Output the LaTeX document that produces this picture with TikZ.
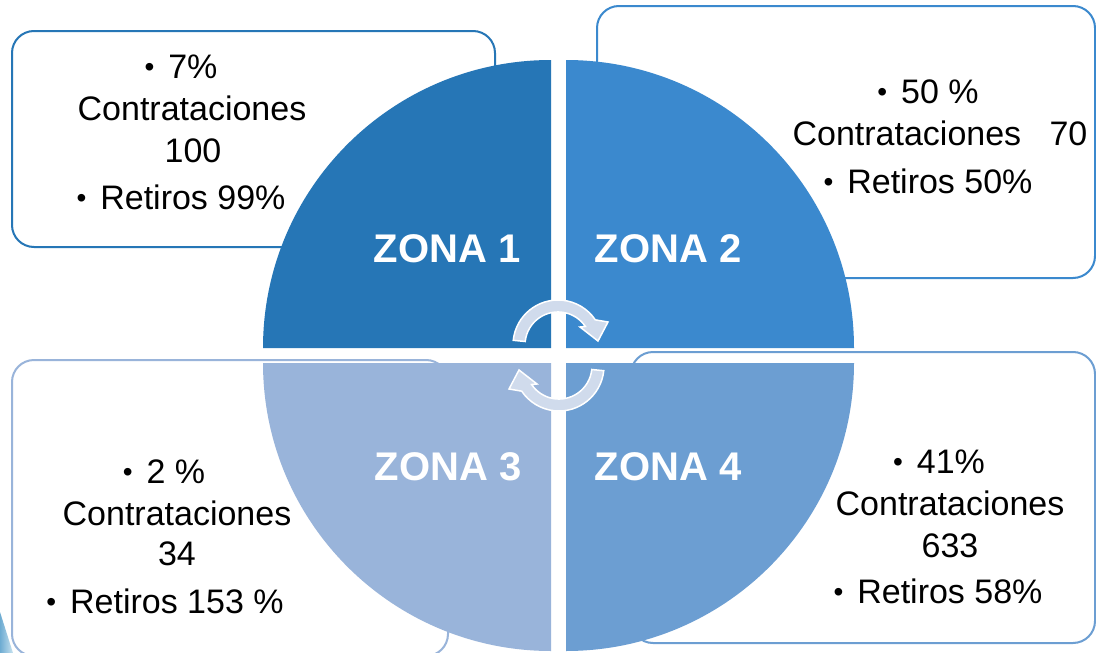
\documentclass[tikz,border=0pt]{standalone}
\usepackage{fontspec}
\setmainfont{Liberation Sans}
\definecolor{zA}{RGB}{38,118,182}
\definecolor{zB}{RGB}{59,137,206}
\definecolor{zC}{RGB}{153,180,218}
\definecolor{zD}{RGB}{108,158,210}
\definecolor{arr}{RGB}{208,219,236}
\definecolor{decoA}{RGB}{110,172,210}
\definecolor{decoB}{RGB}{200,226,240}
\newcommand\mybul{\raisebox{2pt}{\fontsize{28}{28}\selectfont•}\hspace{14pt}}
\tikzset{
  infobox/.style={line width=2pt, fill=white, rounded corners=22pt},
  txt/.style={anchor=base, inner sep=0pt, font=\fontsize{34}{41}\selectfont, text=black},
  zona/.style={anchor=base, inner sep=0pt, font=\fontsize{40}{48}\selectfont\bfseries, text=white},
  cyc/.style={fill=arr, draw=white, line width=1.5pt, line join=miter},
}
\begin{document}
\begin{tikzpicture}[x=1pt,y=1pt,yscale=-1]
\useasboundingbox (0,0) rectangle (1096,653);
\fill[white] (0,0) rectangle (1096,653);
% background decoration bottom-left
\shade[left color=decoA, right color=decoB] (0,612) -- (13,653) -- (0,653) -- cycle;
% info boxes
\draw[infobox, draw=zA] (12,31) rectangle (495,247);
\draw[infobox, draw=zB] (597,6) rectangle (1095,278);
\draw[infobox, draw=zC] (12,360) rectangle (448,656);
\draw[infobox, draw=zD] (631,352) rectangle (1095,643);
% quadrants
\fill[zA] (551,348) -- (263,348) arc[start angle=180,end angle=270,radius=288pt] -- cycle;
\fill[zB] (566,348) -- (566,60) arc[start angle=270,end angle=360,radius=288pt] -- cycle;
\fill[zC] (551,363) -- (263,363) arc[start angle=180,end angle=90,radius=288pt] -- cycle;
\fill[zD] (566,363) -- (854,363) arc[start angle=0,end angle=90,radius=288pt] -- cycle;
% cycle arrows
\path[cyc] (513.25,340.3) arc[start angle=186,end angle=326,radius=45pt]
  -- (608,322) -- (598,341) -- (580,327) -- (585.4,326.5)
  arc[start angle=326,end angle=186,radius=33pt] -- cycle;
\path[cyc, rotate around={180:(558.5,355.5)}] (513.25,340.3) arc[start angle=186,end angle=326,radius=45pt]
  -- (608,322) -- (598,341) -- (580,327) -- (585.4,326.5)
  arc[start angle=326,end angle=186,radius=33pt] -- cycle;
% zone labels
\node[zona] (z1) at (447,262) {ZONA 1};
\node[zona] (z2) at (668,262) {ZONA 2};
\node[zona] (z3) at (448,480) {ZONA 3};
\node[zona] (z4) at (668,480) {ZONA 4};
% box 1 text
\node[txt] (t1a) at (181,78) {\mybul 7\%};
\node[txt] (t1b) at (192,120) {Contrataciones};
\node[txt] (t1c) at (193,162) {100};
\node[txt] (t1d) at (181,209) {\mybul Retiros 99\%};
% box 2 text
\node[txt] (t2a) at (928,103) {\mybul 50 \%};
\node[txt] (t2b) at (940,145) {Contrataciones\ \ \ 70};
\node[txt] (t2c) at (928,193) {\mybul Retiros 50\%};
% box 3 text
\node[txt] (t3a) at (164,483) {\mybul 2 \%};
\node[txt] (t3b) at (177,525) {Contrataciones};
\node[txt] (t3c) at (177,565) {34};
\node[txt] (t3d) at (165,613) {\mybul Retiros 153 \%};
% box 4 text
\node[txt] (t4a) at (939,473) {\mybul 41\%};
\node[txt] (t4b) at (950,515) {Contrataciones};
\node[txt] (t4c) at (950,557) {633};
\node[txt] (t4d) at (938,603) {\mybul Retiros 58\%};
\end{tikzpicture}
\end{document}
